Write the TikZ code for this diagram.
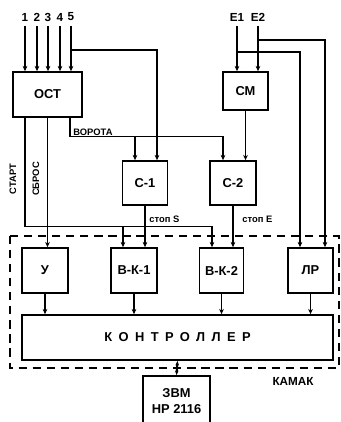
\documentclass[tikz,border=0pt]{standalone}
\usepackage{fontspec}
\setmainfont{Liberation Sans}
\usetikzlibrary{arrows.meta, calc}

\tikzset{
  blk/.style={draw, line width=1.4pt, font=\bfseries\fontsize{11}{13}\selectfont, inner sep=0pt},
  wire/.style={line width=1pt},
  arr/.style={wire, -{Stealth[length=4.5pt, width=4pt]}},
  tag/.style={font=\bfseries\footnotesize, inner sep=1pt},
  pin/.style={font=\bfseries\fontsize{10}{12}\selectfont, inner sep=1pt},
}

\begin{document}
\begin{tikzpicture}[x=0.03cm, y=-0.03cm]
  \clip (0,0) rectangle (341,422);

  % upper blocks
  \node[blk, minimum width=2.07cm, minimum height=1.35cm] (ost) at (47.5,94.5) {ОСТ};
  \node[blk, minimum width=1.35cm, minimum height=1.14cm] (cm) at (245.5,91) {СМ};
  \node[blk, minimum width=1.35cm, minimum height=1.32cm] (c1) at (145,183) {С-1};
  \node[blk, minimum width=1.38cm, minimum height=1.32cm] (c2) at (233,183) {С-2};

  % KAMAK blocks
  \node[blk, minimum width=1.38cm, minimum height=1.35cm] (u) at (45,270.5) {У};
  \node[blk, minimum width=1.38cm, minimum height=1.35cm] (vk1) at (134,270.5) {В-К-1};
  \node[blk, minimum width=1.32cm, minimum height=1.35cm] (vk2) at (221.5,270.5) {В-К-2};
  \node[blk, minimum width=1.35cm, minimum height=1.35cm] (lr) at (310.5,270.5) {ЛР};
  \node[blk, minimum width=9.33cm, minimum height=1.35cm] (ctrl) at (177.5,337.5)
    {\addfontfeatures{LetterSpace=50}КОНТРОЛЛЕР};
  \node[blk, minimum width=2.01cm, minimum height=1.5cm, align=center] (evm) at (176.5,401)
    {ЗВМ\\HP 2116};

  % inputs
  \foreach \n/\x in {1/25,2/37,3/48,4/60,5/71} {
    \node[pin] (in\n) at (\x,17) {\n};
    \draw[arr, shorten <=3pt] (in\n.south) -- (in\n.south |- ost.north);
  }
  \node[pin] (e1) at (237,17) {E1};
  \node[pin] (e2) at (258,17) {E2};
  \draw[arr, shorten <=3pt] (e1.south) -- (e1.south |- cm.north);
  \draw[arr, shorten <=3pt] (e2.south) -- (e2.south |- cm.north);

  % branches
  \draw[arr] (in5.south |- 0,50) -| ($(c1.north)+(12,0)$);
  \draw[arr] (e1.south |- 0,52) -| ($(lr.north)+(-10.5,0)$);
  \draw[arr] (e2.south |- 0,40) -| ($(lr.north)+(14.5,0)$);
  \draw[arr] (cm.south) -- (cm.south |- c2.north);

  % ВОРОТА
  \coordinate (vor) at ($(ost.south)+(22.5,0)$);
  \draw[arr] (vor) |- ($(c2.north)+(-10,-24)$) -- ($(c2.north)+(-10,0)$);
  \draw[arr] ($(c1.north)+(-10,-24)$) -- ($(c1.north)+(-10,0)$);
  \node[tag, anchor=south west] (vorlbl) at ($(vor)+(2,19)$) {ВОРОТА};

  % СТАРТ, СБРОС
  \coordinate (st) at ($(ost.south)+(-22.5,0)$);
  \draw[arr] (st) |- ($(vk2.north)+(-9.5,-21)$) -- ($(vk2.north)+(-9.5,0)$);
  \draw[arr] ($(vk1.north)+(-11,-21)$) -- ($(vk1.north)+(-11,0)$);
  \draw[arr] (ost.south) -- (ost.south |- u.north);
  \node[tag, rotate=90] (stlbl) at (13,179) {СТАРТ};
  \node[tag, rotate=90] (sblbl) at (36,179) {СБРОС};

  % stop signals
  \draw[arr] (c1.south) -- (c1.south |- vk1.north);
  \draw[arr] (c2.south) -- (c2.south |- vk2.north);
  \node[tag, anchor=west] (stops) at ($(c1.south)+(3,13)$) {стоп S};
  \node[tag, anchor=west] (stope) at ($(c2.south)+(8,13)$) {стоп E};

  % to controller
  \foreach \b in {u,vk1,vk2,lr}
    \draw[arr] (\b.south) -- (\b.south |- ctrl.north);
  \draw[line width=1.8pt, {Stealth[length=4pt]}-{Stealth[length=4pt]}] (ctrl.south) -- (evm.north);

  % KAMAK crate
  \draw[line width=1pt, dash pattern=on 7pt off 5pt] (10,236) rectangle (339,368);
  \node[pin] (kamak) at (293,381) {КАМАК};
\end{tikzpicture}
\end{document}
